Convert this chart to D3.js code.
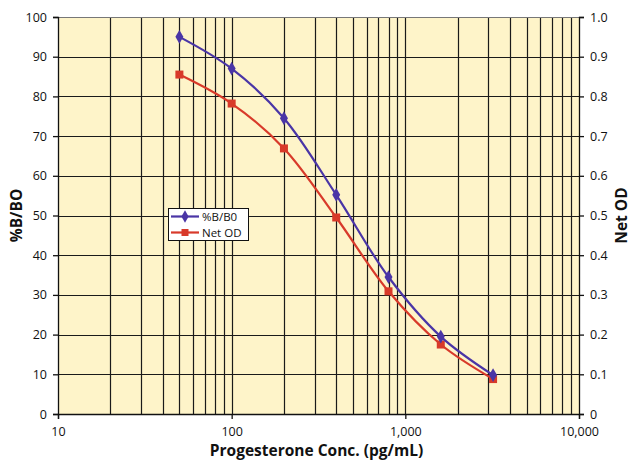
<!DOCTYPE html>
<html>
<head>
<meta charset="utf-8">
<script src="https://cdn.jsdelivr.net/npm/d3@7"></script>
<style>
  html, body { margin: 0; padding: 0; background: #fff; }
  svg { display: block; font-family: "Open Sans", sans-serif; }
</style>
</head>
<body>
<svg id="chart" width="632" height="462"></svg>
<script>
// Progesterone standard curve: concentration (pg/mL) vs %B/B0 and net OD
const concentrations = [50, 100, 200, 400, 800, 1600, 3200];
const percentBB0 = [95.0, 87.0, 74.5, 55.2, 34.5, 19.5, 9.8];
const netOD = [0.855, 0.782, 0.669, 0.495, 0.309, 0.175, 0.088];

const xTickValues = [10, 100, 1000, 10000];
const xTickLabels = ["10", "100", "1,000", "10,000"];
const leftTicks = [0, 10, 20, 30, 40, 50, 60, 70, 80, 90, 100];
const rightTicks = [0, 0.1, 0.2, 0.3, 0.4, 0.5, 0.6, 0.7, 0.8, 0.9, 1.0];

const svg = d3.select("#chart");
const margin = { left: 58, right: 53, top: 17, bottom: 48 };
const W = 632, H = 462;
const iw = W - margin.left - margin.right;
const ih = H - margin.top - margin.bottom;

const x = d3.scaleLog().domain([10, 10000]).range([margin.left, margin.left + iw]);
const yL = d3.scaleLinear().domain([0, 100]).range([margin.top + ih, margin.top]);
const yR = d3.scaleLinear().domain([0, 1]).range([margin.top + ih, margin.top]);

// plot background
svg.append("rect")
  .attr("x", margin.left).attr("y", margin.top)
  .attr("width", iw).attr("height", ih)
  .attr("fill", "#fef4c9");

// vertical grid at every log minor tick
const minor = [];
for (let d = 10; d < 10000; d *= 10) {
  for (let k = 1; k <= 9; k++) minor.push(d * k);
}
svg.append("g").selectAll("line").data(minor.filter(v => v > 10 && v < 10000)).join("line")
  .attr("x1", d => Math.round(x(d)) + 0.5).attr("x2", d => Math.round(x(d)) + 0.5)
  .attr("y1", margin.top).attr("y2", margin.top + ih)
  .attr("stroke", "#1a1a1a").attr("stroke-width", 1.2);

// horizontal grid
svg.append("g").selectAll("line").data(leftTicks.filter(v => v > 0 && v < 100)).join("line")
  .attr("x1", margin.left).attr("x2", margin.left + iw)
  .attr("y1", d => Math.round(yL(d)) + 0.5).attr("y2", d => Math.round(yL(d)) + 0.5)
  .attr("stroke", "#1a1a1a").attr("stroke-width", 1.2);

// top border
svg.append("line")
  .attr("x1", margin.left).attr("x2", margin.left + iw)
  .attr("y1", margin.top + 0.5).attr("y2", margin.top + 0.5)
  .attr("stroke", "#777").attr("stroke-width", 1);

const tickFont = 12.5;

// axes
const xAxis = d3.axisBottom(x).tickValues(xTickValues)
  .tickFormat((d, i) => xTickLabels[i]).tickSize(5).tickPadding(8);
const gx = svg.append("g").attr("transform", `translate(0,${margin.top + ih})`).call(xAxis);

const leftAxis = d3.axisLeft(yL).tickValues(leftTicks).tickFormat(d3.format("d")).tickSize(5).tickPadding(6);
const gl = svg.append("g").attr("transform", `translate(${margin.left},0)`).call(leftAxis);

const rightAxis = d3.axisRight(yR).tickValues(rightTicks).tickFormat(d => d === 0 ? "0" : d3.format(".1f")(d)).tickSize(5).tickPadding(6);
const gr = svg.append("g").attr("transform", `translate(${margin.left + iw},0)`).call(rightAxis);

[gx, gl, gr].forEach(g => {
  g.select(".domain").attr("stroke", "#111").attr("stroke-width", 1.3);
  g.selectAll(".tick line").attr("stroke", "#111").attr("stroke-width", 1.3);
  g.selectAll("text").attr("font-size", tickFont).attr("fill", "#111")
    .attr("font-family", "'Open Sans', sans-serif").attr("font-weight", 400);
});

// axis titles
svg.append("text")
  .attr("transform", `translate(22,${margin.top + ih / 2}) rotate(-90)`)
  .attr("text-anchor", "middle").attr("font-size", 15.5).attr("font-weight", 700)
  .attr("fill", "#111").text("%B/BO");
svg.append("text")
  .attr("transform", `translate(627,${margin.top + ih / 2}) rotate(-90)`)
  .attr("text-anchor", "middle").attr("font-size", 15.5).attr("font-weight", 700)
  .attr("fill", "#111").text("Net OD");
svg.append("text")
  .attr("x", margin.left + iw / 2 - 2).attr("y", 456)
  .attr("text-anchor", "middle").attr("font-size", 15.5).attr("font-weight", 700)
  .attr("fill", "#111").text("Progesterone Conc. (pg/mL)");

// series
const blue = "#4a35a6", red = "#d83a2a";
const lineL = d3.line().x((d, i) => x(concentrations[i])).y(d => yL(d)).curve(d3.curveCatmullRom.alpha(0.5));
const lineR = d3.line().x((d, i) => x(concentrations[i])).y(d => yR(d)).curve(d3.curveCatmullRom.alpha(0.5));

svg.append("path").datum(netOD).attr("d", lineR)
  .attr("fill", "none").attr("stroke", red).attr("stroke-width", 2.2);
svg.append("g").selectAll("rect").data(netOD).join("rect")
  .attr("x", (d, i) => x(concentrations[i]) - 4).attr("y", d => yR(d) - 4)
  .attr("width", 8).attr("height", 8).attr("fill", red);

svg.append("path").datum(percentBB0).attr("d", lineL)
  .attr("fill", "none").attr("stroke", blue).attr("stroke-width", 2.2);
const diamond = d3.symbol().type(d3.symbolDiamond).size(55);
svg.append("g").selectAll("path").data(percentBB0).join("path")
  .attr("transform", (d, i) => `translate(${x(concentrations[i])},${yL(d)})`)
  .attr("d", diamond).attr("fill", blue);

// legend
const lg = svg.append("g").attr("transform", "translate(168,208)");
lg.append("rect").attr("x", 0.5).attr("y", 0.5).attr("width", 80).attr("height", 32)
  .attr("fill", "#fff").attr("stroke", "#111").attr("stroke-width", 1);
const items = [
  { label: "%B/B0", color: blue, sym: "diamond" },
  { label: "Net OD", color: red, sym: "square" }
];
items.forEach((it, i) => {
  const cy = 8.5 + i * 16;
  lg.append("line").attr("x1", 3).attr("x2", 31).attr("y1", cy).attr("y2", cy)
    .attr("stroke", it.color).attr("stroke-width", 2.2);
  if (it.sym === "diamond") {
    lg.append("path").attr("transform", `translate(17,${cy})`)
      .attr("d", d3.symbol().type(d3.symbolDiamond).size(45)()).attr("fill", it.color);
  } else {
    lg.append("rect").attr("x", 13.5).attr("y", cy - 3.5).attr("width", 7).attr("height", 7).attr("fill", it.color);
  }
  lg.append("text").attr("x", 34).attr("y", cy + 4).attr("font-size", 11.5)
    .attr("font-weight", 400).attr("fill", "#111").text(it.label);
});
</script>
</body>
</html>
